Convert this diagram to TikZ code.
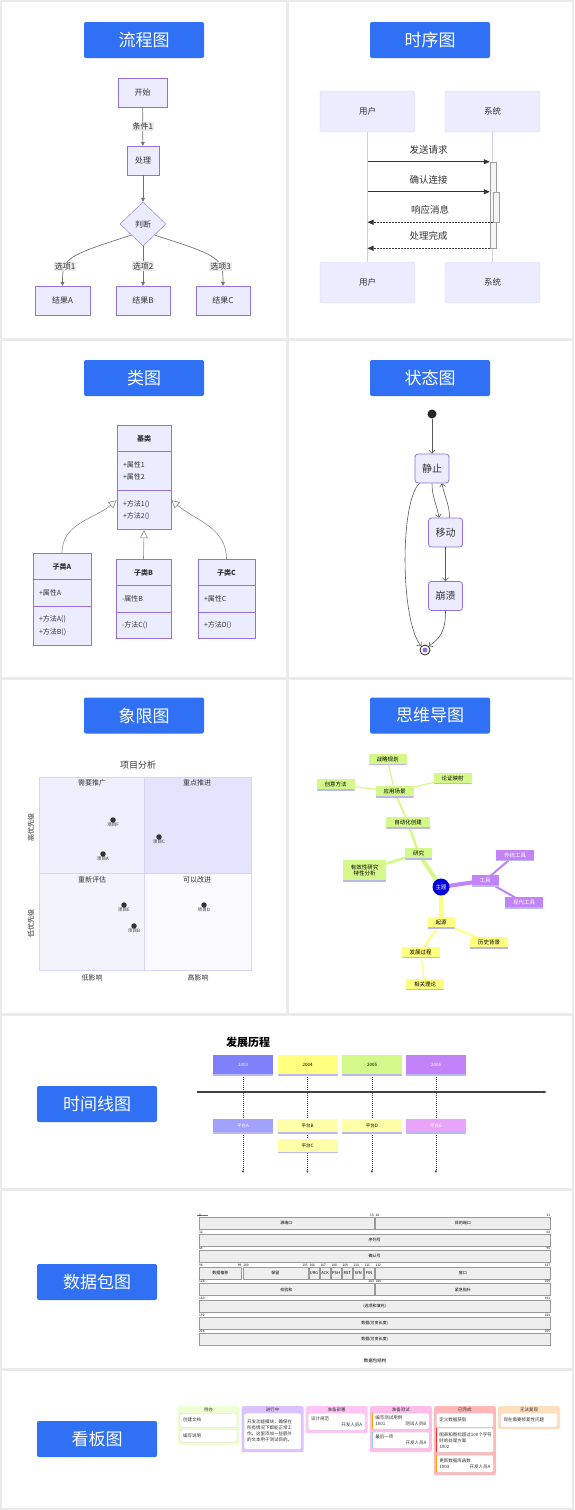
\documentclass[tikz,border=0pt]{standalone}
\usepackage{fontspec}
\setmainfont{Noto Sans CJK SC}
\usepackage{tikz}
\usetikzlibrary{
  arrows.meta,
  shapes.geometric,
  shapes.multipart,
  positioning,
  calc,
  backgrounds
}
\definecolor{pgGap}{HTML}{EAEAEA}
\definecolor{pgBtn}{HTML}{2F70F5}
\definecolor{mmFill}{HTML}{ECECFF}
\definecolor{mmStroke}{HTML}{9370DB}
\definecolor{mmEdge}{HTML}{5A5A5A}
\definecolor{mmText}{HTML}{333333}
\definecolor{mmLife}{HTML}{CDCDF5}
\definecolor{mmActor}{HTML}{DADAF7}
\definecolor{qdTR}{HTML}{E3E3FB}
\definecolor{qdTL}{HTML}{EEEEFC}
\definecolor{qdBL}{HTML}{F3F3FE}
\definecolor{qdBR}{HTML}{F9F9FF}
\definecolor{qdLine}{HTML}{D5D5F5}
\definecolor{csRoot}{HTML}{0000E0}
\definecolor{csBlue}{HTML}{8080FA}
\definecolor{csBlueL}{HTML}{A2A2FC}
\definecolor{csYel}{HTML}{FFFF80}
\definecolor{csYelL}{HTML}{FFFFA8}
\definecolor{csGrn}{HTML}{D4F98A}
\definecolor{csPur}{HTML}{C183F7}
\definecolor{csPurL}{HTML}{E8A3FA}
\definecolor{csUnder}{HTML}{B9B9F0}
\definecolor{pkFill}{HTML}{EEEEEE}
\definecolor{pkStroke}{HTML}{999999}
\definecolor{kbTodo}{HTML}{EDFFD3}
\definecolor{kbDoing}{HTML}{DCC2FF}
\definecolor{kbDeploy}{HTML}{FFC6F5}
\definecolor{kbTest}{HTML}{FFBDE9}
\definecolor{kbDone}{HTML}{FFB7B7}
\definecolor{kbRepro}{HTML}{FFDEBD}
\definecolor{kbCard}{HTML}{CFCFCF}
\definecolor{kbHigh}{HTML}{FF2A2A}
\definecolor{kbMid}{HTML}{FFA500}
\definecolor{kbLow}{HTML}{8FD4F0}
\tikzset{
  btn/.style={fill=pgBtn, rounded corners=2pt, text=white, minimum width=120, minimum height=36,
    inner sep=0, font=\fontsize{17}{20}\selectfont},
  fbox/.style={draw=mmStroke, fill=mmFill, text=mmText, minimum height=29, inner sep=0,
    font=\fontsize{8}{10}\selectfont},
  fdia/.style={fbox, diamond, minimum width=46, minimum height=44, aspect=1},
  fedge/.style={draw=mmEdge!85, line width=0.7, -{Triangle[length=4pt,width=4pt]}},
  elbl/.style={fill=pgGap, text=mmText, inner sep=1pt, font=\fontsize{8}{10}\selectfont},
  actor/.style={fill=mmFill, draw=mmActor, rounded corners=2pt, minimum width=95, minimum height=41,
    text=mmText, font=\fontsize{8.5}{10}\selectfont},
  life/.style={draw=mmLife, line width=0.7},
  actbar/.style={fill=gray!8, draw=gray!75, minimum width=6, inner sep=0, line width=0.5},
  smsg/.style={draw=mmText, line width=0.8, -{Triangle[length=6pt,width=5pt]}},
  sret/.style={smsg, dash pattern=on 1.5pt off 1.5pt},
  slbl/.style={above=4pt, text=mmText, font=\fontsize{9.5}{11}\selectfont},
  cls/.style={rectangle split, rectangle split parts=3, draw=mmStroke, fill=mmFill, text=mmText,
    align=left, anchor=north, inner xsep=6, inner ysep=9.5, line width=0.7,
    font=\fontsize{7}{12.5}\selectfont},
  inh/.style={draw=mmEdge!70, line width=0.6, -{Triangle[open,length=8pt,width=8pt,fill=white]}},
  st/.style={draw=mmStroke, fill=mmFill, rounded corners=3pt, minimum width=34, minimum height=29,
    text=mmText, line width=0.8, font=\fontsize{10}{12}\selectfont},
  stinit/.style={circle, fill=black!85, minimum size=9, inner sep=0},
  stend/.style={circle, draw=black!85, fill=white, minimum size=10, inner sep=0, line width=0.8},
  sedge/.style={draw=mmEdge, line width=0.6, -{Straight Barb[length=3pt,width=6pt]}},
  qtitle/.style={text=mmText, font=\fontsize{9}{11}\selectfont},
  qlbl/.style={text=mmText, inner sep=0, font=\fontsize{7}{8}\selectfont},
  qpt/.style={circle, fill=mmText, minimum size=5.5, inner sep=0},
  qptl/.style={text=mmText, inner sep=0, font=\fontsize{4.5}{5}\selectfont},
  mmnode/.style={rectangle, minimum height=11, inner xsep=8, inner ysep=1, text=black,
    font=\fontsize{5.5}{6.5}\selectfont,
    path picture={\draw[csUnder, line width=1.6pt] (path picture bounding box.south west)
      -- (path picture bounding box.south east);}},
  grnnode/.style={mmnode, fill=csGrn},
  yelnode/.style={mmnode, fill=csYel},
  purnode/.style={mmnode, fill=csPur, text=white},
  grnedge/.style={draw=csGrn, line cap=round},
  yeledge/.style={draw=csYel, line cap=round},
  puredge/.style={draw=csPur, line cap=round},
  tltitle/.style={text=black, font=\fontsize{11}{13}\bfseries},
  tlyear/.style={mmnode, minimum width=60, minimum height=20, inner sep=0, font=\fontsize{4.5}{5}\selectfont},
  tlev/.style={tlyear, minimum height=14},
  tldot/.style={draw=black!75, line width=0.6, dash pattern=on 1pt off 1pt, -{Latex[length=2.5pt,width=2.5pt]}},
  tlaxis/.style={draw=black!75, line width=1.2, -{Latex[length=3.5pt,width=3pt]}},
  pkbox/.style={draw=pkStroke, fill=pkFill, minimum height=12, inner sep=0, line width=0.5,
    text=black, font=\fontsize{4}{5}\selectfont},
  pkbit/.style={inner sep=0.3pt, text=black, font=\fontsize{3.2}{4}\selectfont},
  kcol/.style={rounded corners=2pt, minimum width=62, anchor=north, inner sep=0},
  khead/.style={inner sep=0, text=mmText, font=\fontsize{4.5}{5}\selectfont},
  kcard/.style={draw=kbCard, fill=white, rounded corners=1.5pt, anchor=north, minimum width=57,
    text width=51, align=left, inner xsep=3, inner ysep=2, line width=0.4, text=mmText,
    font=\fontsize{4.5}{6}\selectfont}
}
\newcommand{\ctitle}[1]{{\centering\bfseries #1\par}}
% one field of the packet rows: name, first bit, last bit, row, label
\newcommand{\pkfield}[5]{%
  \pgfmathsetmacro{\pkl}{198+(#2-32*#4)*11.03+0.7}%
  \pgfmathsetmacro{\pkr}{198+(#3-32*#4+1)*11.03-0.7}%
  \pgfmathsetmacro{\pkt}{1217+16.6*#4}%
  \pgfmathsetmacro{\pkw}{\pkr-\pkl}%
  \node[pkbox, minimum width=\pkw, anchor=north west] (#1) at (\pkl,\pkt) {#5};%
  \node[pkbit, anchor=south west] (#1-a) at (#1.north west) {#2};%
  \ifnum#2=#3\relax\else\node[pkbit, anchor=south east] (#1-b) at (#1.north east) {#3};\fi
}

\begin{document}
\begin{tikzpicture}[x=1pt,y=-1pt]
  \useasboundingbox (0,0) rectangle (574,1510);
  % panels
  \begin{scope}[on background layer]
    \fill[pgGap] (0,0) rectangle (574,1510);
    \fill[white] (2,2) rectangle (286,338) (289,2) rectangle (572,338);
    \fill[white] (2,341) rectangle (286,677) (289,341) rectangle (572,677);
    \fill[white] (2,680) rectangle (286,1013) (289,680) rectangle (572,1013);
    \fill[white] (2,1016) rectangle (572,1188);
    \fill[white] (2,1191) rectangle (572,1368);
    \fill[white] (2,1371) rectangle (572,1508);
  \end{scope}

  % ---- flowchart
  \node[btn] (btnFlow) at (144,40) {流程图};
  \node[fbox, minimum width=49] (fStart) at (142.5,92.5) {开始};
  \node[fbox, minimum width=32] (fProc) at (143,160.5) {处理};
  \node[fdia] (fJudge) at (143,224) {判断};
  \node[fbox, minimum width=55] (fResA) at (62.5,300.5) {结果A};
  \node[fbox, minimum width=54] (fResB) at (143,300.5) {结果B};
  \node[fbox, minimum width=54] (fResC) at (223,300.5) {结果C};
  \draw[fedge] (fStart) -- node[elbl]{条件1} (fProc);
  \draw[fedge] (fProc) -- (fJudge);
  \draw[fedge] (fJudge.south west) .. controls (66,256) and (62.5,258) .. (fResA.north) node[elbl,pos=0.7]{选项1};
  \draw[fedge] (fJudge) -- node[elbl,pos=0.5]{选项2} (fResB);
  \draw[fedge] (fJudge.south east) .. controls (220,256) and (223,258) .. (fResC.north) node[elbl,pos=0.7]{选项3};

  % ---- sequence
  \node[btn] (btnSeq) at (430,40) {时序图};
  \node[actor] (sUserT) at (367.5,111.5) {用户};
  \node[actor] (sSysT) at (492.5,111.5) {系统};
  \node[actor] (sUserB) at (367.5,282.5) {用户};
  \node[actor] (sSysB) at (492.5,282.5) {系统};
  \draw[life] (sUserT) -- (sUserB);
  \draw[life] (sSysT) -- (sSysB);
  \node[actbar, minimum height=86] (sAct1) at (493,205) {};
  \node[actbar, minimum height=30] (sAct2) at (496,207) {};
  \draw[smsg] (sUserT |- sAct1.north) -- node[slbl]{发送请求} (sAct1.north west);
  \draw[smsg] (sUserT |- sAct2.north) -- node[slbl]{确认连接} (sAct1.west |- sAct2.north);
  \draw[sret] (sAct2.south west) -- node[slbl]{响应消息} (sUserT |- sAct2.south);
  \draw[sret] (sAct1.south west) -- node[slbl]{处理完成} (sUserT |- sAct1.south);

  % ---- class diagram
  \node[btn] (btnCls) at (144,378) {类图};
  \node[cls, text width=42] (cBase) at (144,425)
    {\ctitle{基类}\nodepart{two}+属性1\\+属性2\nodepart{three}+方法1()\\+方法2()};
  \node[cls, text width=46] (cA) at (62,553)
    {\ctitle{子类A}\nodepart{two}+属性A\nodepart{three}+方法A()\\+方法B()};
  \node[cls, text width=43] (cB) at (143.5,559)
    {\ctitle{子类B}\nodepart{two}-属性B\nodepart{three}-方法C()};
  \node[cls, text width=45] (cC) at (226.5,559)
    {\ctitle{子类C}\nodepart{two}+属性C\nodepart{three}+方法D()};
  \draw[inh] (cA.north) to[out=90,in=-140] ([yshift=30pt]cBase.south west);
  \draw[inh] (cB.north) -- (cBase.south);
  \draw[inh] (cC.north) to[out=90,in=-40] ([yshift=30pt]cBase.south east);

  % ---- state diagram
  \node[btn] (btnSt) at (430,378) {状态图};
  \node[stinit] (stStart) at (432,414) {};
  \node[st] (stIdle) at (432,468.5) {静止};
  \node[st] (stMove) at (445.5,532.5) {移动};
  \node[st] (stCrash) at (445.5,596) {崩溃};
  \node[stend] (stEnd) at (425,650) {};
  \fill[mmStroke] (stEnd) circle (2.5);
  \draw[sedge] (stStart) -- (stIdle);
  \draw[sedge] (stIdle.south) to[out=-90,in=100] ([xshift=-6.5pt]stMove.north);
  \draw[sedge] ([xshift=4pt]stMove.north) to[out=90,in=-80] ([xshift=10pt]stIdle.south);
  \draw[sedge] (stMove) -- (stCrash);
  \draw[sedge] ([xshift=5pt]stIdle.south west) .. controls (400,500) and (400,620) .. (stEnd.north west);
  \draw[sedge] (stCrash.south) .. controls (445.5,632) and (440,638) .. (stEnd.north east);

  % ---- quadrant chart
  \node[btn] (btnQd) at (144,715.5) {象限图};
  \node[qtitle] (qdTitle) at (138,765) {项目分析};
  \fill[qdTL] (39,777) rectangle (144,873);
  \fill[qdTR] (144,777) rectangle (251,873);
  \fill[qdBL] (39,873) rectangle (144,970);
  \fill[qdBR] (144,873) rectangle (251,970);
  \draw[qdLine] (39,777) rectangle (251,970) (144,777) -- (144,970) (39,873) -- (251,873);
  \node[qlbl] (qdNeed) at (92,783) {需要推广};
  \node[qlbl] (qdPush) at (197,783) {重点推进};
  \node[qlbl] (qdEval) at (92,880) {重新评估};
  \node[qlbl] (qdImpr) at (197,880) {可以改进};
  \node[qlbl, rotate=90] (qdHigh) at (31,827) {高优先级};
  \node[qlbl, rotate=90] (qdLow) at (31,923) {低优先级};
  \node[qlbl] (qdLowX) at (92,978) {低影响};
  \node[qlbl] (qdHighX) at (198,978) {高影响};
  \foreach \n/\px/\py in {F/113/820, A/103/854, C/159/837, E/124/905, B/134/926, D/204/905} {
    \node[qpt] (qd\n) at (\px,\py) {};
    \node[qptl] (qd\n l) at (\px,\py+4.5) {项目\n};
  }

  % ---- mind map
  \node[btn] (btnMind) at (430,715.5) {思维导图};
  \node[circle, fill=csRoot, text=white, minimum size=17, inner sep=0,
    font=\fontsize{5.5}{6}\selectfont] (mRoot) at (441,887) {主题};
  \node[grnnode] (mStudy) at (418.5,853.5) {研究};
  \node[grnnode] (mAuto) at (408,822.5) {自动化创建};
  \node[grnnode] (mUse) at (394.5,791.5) {应用场景};
  \node[grnnode] (mPlan) at (387.5,759) {战略规划};
  \node[grnnode] (mIdea) at (335.5,784.5) {创意方法};
  \node[grnnode] (mArg) at (452.5,778) {论证映射};
  \node[grnnode, align=center, minimum height=21] (mEff) at (364.5,870.5) {有效性研究\\特性分析};
  \node[purnode] (mTool) at (485,880.5) {工具};
  \node[purnode] (mOld) at (515,855) {传统工具};
  \node[purnode] (mNew) at (524,902.5) {现代工具};
  \node[yelnode] (mOrig) at (441,922.5) {起源};
  \node[yelnode] (mHist) at (489,942.5) {历史背景};
  \node[yelnode] (mDev) at (420.5,952) {发展过程};
  \node[yelnode] (mTheo) at (425,984) {相关理论};
  \begin{scope}[on background layer]
    \draw[grnedge, line width=4] (mRoot.center) -- (mStudy.center);
    \draw[grnedge, line width=2.5] (mStudy.center) -- (mAuto.center);
    \draw[grnedge, line width=2.5] (mStudy.center) -- (mEff.center);
    \draw[grnedge, line width=1.8] (mAuto.center) -- (mUse.center);
    \draw[grnedge, line width=1.2] (mUse.center) -- (mPlan.center);
    \draw[grnedge, line width=1.2] (mUse.center) -- (mIdea.center);
    \draw[grnedge, line width=1.2] (mUse.center) -- (mArg.center);
    \draw[puredge, line width=4] (mRoot.center) -- (mTool.center);
    \draw[puredge, line width=2] (mTool.center) -- (mOld.center);
    \draw[puredge, line width=2] (mTool.center) -- (mNew.center);
    \draw[yeledge, line width=4] (mRoot.center) -- (mOrig.center);
    \draw[yeledge, line width=2] (mOrig.center) -- (mHist.center);
    \draw[yeledge, line width=2] (mOrig.center) -- (mDev.center);
    \draw[yeledge, line width=1.2] (mDev.center) -- (mTheo.center);
  \end{scope}

  % ---- timeline
  \node[btn] (btnTime) at (97,1104) {时间线图};
  \node[tltitle] (tlTitle) at (248,1042) {发展历程};
  \node[tlyear, fill=csBlue, text=white] (tl03) at (243,1065) {2003};
  \node[tlyear, fill=csYel] (tl04) at (307.5,1065) {2004};
  \node[tlyear, fill=csGrn] (tl05) at (372,1065) {2005};
  \node[tlyear, fill=csPur, text=white] (tl06) at (436,1065) {2006};
  \node[tlev, fill=csBlueL, text=white] (tlA) at (243,1126) {平台A};
  \node[tlev, fill=csYelL] (tlB) at (307.5,1126) {平台B};
  \node[tlev, fill=csYelL] (tlC) at (307.5,1145.5) {平台C};
  \node[tlev, fill=csYelL] (tlD) at (372,1126) {平台D};
  \node[tlev, fill=csPurL, text=white] (tlE) at (436,1126) {平台E};
  \coordinate (tlAxisL) at (197,1092);
  \coordinate (tlAxisR) at (547,1092);
  \coordinate (tlEnd03) at (243,1173);
  \coordinate (tlEnd04) at (307.5,1173);
  \coordinate (tlEnd05) at (372,1173);
  \coordinate (tlEnd06) at (436,1173);
  \begin{scope}[on background layer]
    \draw[tldot] (tl03) -- (tlEnd03);
    \draw[tldot] (tl04) -- (tlEnd04);
    \draw[tldot] (tl05) -- (tlEnd05);
    \draw[tldot] (tl06) -- (tlEnd06);
  \end{scope}
  \draw[tlaxis] (tlAxisL) -- (tlAxisR);

  % ---- packet
  \node[btn] (btnPkt) at (97,1282) {数据包图};
  \draw[pgBtn, line width=1] (197,1215) -- (208,1215);
  \pkfield{pSrc}{0}{15}{0}{源端口}
  \pkfield{pDst}{16}{31}{0}{目的端口}
  \pkfield{pSeq}{32}{63}{1}{序列号}
  \pkfield{pAck}{64}{95}{2}{确认号}
  \pkfield{pOff}{96}{99}{3}{数据偏移}
  \pkfield{pRsv}{100}{105}{3}{保留}
  \pkfield{pUrg}{106}{106}{3}{URG}
  \pkfield{pAckf}{107}{107}{3}{ACK}
  \pkfield{pPsh}{108}{108}{3}{PSH}
  \pkfield{pRst}{109}{109}{3}{RST}
  \pkfield{pSyn}{110}{110}{3}{SYN}
  \pkfield{pFin}{111}{111}{3}{FIN}
  \pkfield{pWin}{112}{127}{3}{窗口}
  \pkfield{pSum}{128}{143}{4}{校验和}
  \pkfield{pUrgp}{144}{159}{4}{紧急指针}
  \pkfield{pOpt}{160}{191}{5}{(选项和填充)}
  \pkfield{pData}{192}{223}{6}{数据(可变长度)}
  \pkfield{pDatb}{224}{255}{7}{数据(可变长度)}
  \node[pkbit, font=\fontsize{4.5}{5}\selectfont] (pCap) at (375,1361) {数据包结构};

  % ---- kanban
  \node[btn] (btnKb) at (97,1439) {看板图};
  \node[kcol, fill=kbTodo, minimum height=39] (kTodo) at (208.5,1406) {};
  \node[kcol, fill=kbDoing, minimum height=46] (kDoing) at (272.6,1406) {};
  \node[kcol, fill=kbDeploy, minimum height=27] (kDeploy) at (336.7,1406) {};
  \node[kcol, fill=kbTest, minimum height=46] (kTest) at (400.8,1406) {};
  \node[kcol, fill=kbDone, minimum height=69] (kDone) at (464.9,1406) {};
  \node[kcol, fill=kbRepro, minimum height=23] (kRepro) at (529,1406) {};
  \node[khead] (kTodoH) at ([yshift=-3.5pt]kTodo.north) {待办};
  \node[khead] (kDoingH) at ([yshift=-3.5pt]kDoing.north) {进行中};
  \node[khead] (kDeployH) at ([yshift=-3.5pt]kDeploy.north) {准备部署};
  \node[khead] (kTestH) at ([yshift=-3.5pt]kTest.north) {准备测试};
  \node[khead] (kDoneH) at ([yshift=-3.5pt]kDone.north) {已完成};
  \node[khead] (kReproH) at ([yshift=-3.5pt]kRepro.north) {无法复现};
  \node[kcard, minimum height=14] (kDoc) at (208.5,1413) {创建文档};
  \node[kcard, minimum height=13] (kNote) at (208.5,1429) {编写说明};
  \node[kcard, minimum height=36] (kDev) at (272.6,1413)
    {开发功能模块，确保在\\所有情况下都能正常工\\作。这里添加一些额外\\的文本用于测试目的。};
  \node[kcard, minimum height=17] (kSpec) at (336.7,1413) {设计规范\\\mbox{}\hfill 开发人员A};
  \node[kcard, minimum height=16] (kCase) at (400.8,1413) {编写测试用例\\1001\hfill 测试人员B};
  \node[kcard, minimum height=16] (kLast) at (400.8,1432) {最后一项\\\mbox{}\hfill 开发人员A};
  \node[kcard, minimum height=14] (kFetch) at (464.9,1413) {定义数据获取};
  \node[kcard, minimum height=24] (kChart) at (464.9,1428) {图表和图标超过100个字符\\时的处理方案\\1002};
  \node[kcard, minimum height=17] (kDb) at (464.9,1455) {更新数据库函数\\1003\hfill 开发人员A};
  \node[kcard, minimum height=14] (kFix) at (529,1413) {现在需要修复性问题};
  \draw[kbMid, line width=1.2] ([xshift=0.6pt]kCase.north west) -- ([xshift=0.6pt]kCase.south west);
  \draw[kbLow, line width=1.2] ([xshift=0.6pt]kLast.north west) -- ([xshift=0.6pt]kLast.south west);
  \draw[kbHigh, line width=1.2] ([xshift=0.6pt]kChart.north west) -- ([xshift=0.6pt]kChart.south west);
  \draw[kbMid, line width=1.2] ([xshift=0.6pt]kDb.north west) -- ([xshift=0.6pt]kDb.south west);
\end{tikzpicture}
\end{document}
